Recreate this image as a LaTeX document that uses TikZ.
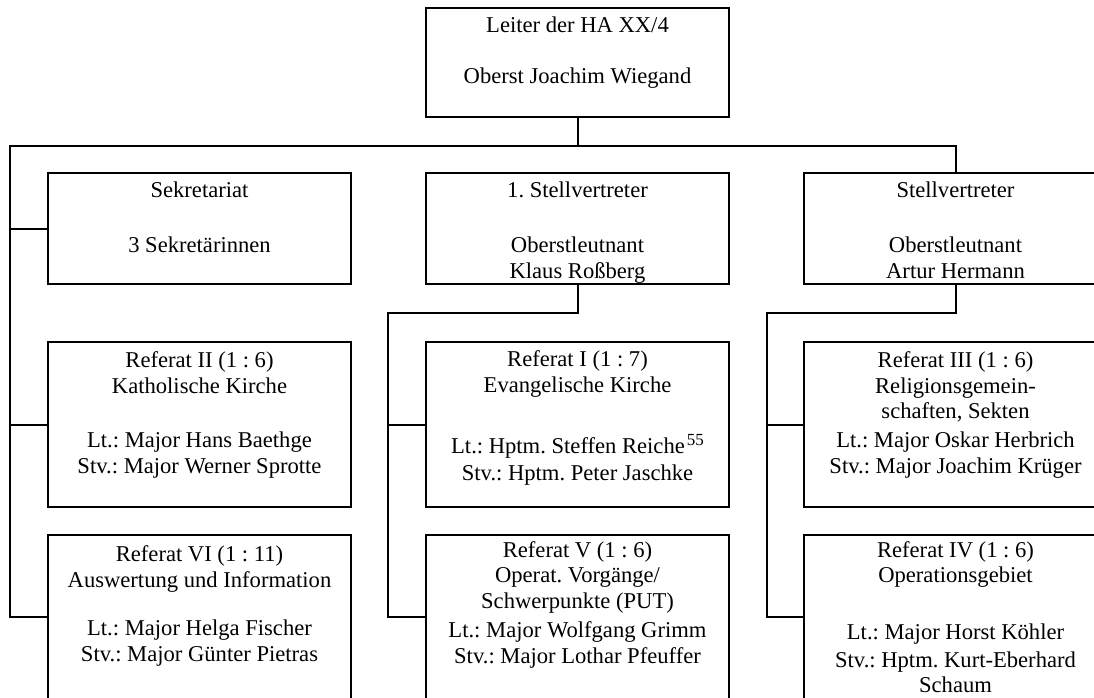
\documentclass[tikz,border=0pt]{standalone}
\usepackage{fontspec}
\setmainfont{Liberation Serif}
\frenchspacing
\newcommand\toprl{\rule{0pt}{17pt}}
\newcommand\supnum[1]{\hspace{2pt}\raisebox{8pt}{\fontsize{17}{17}\selectfont #1}}
\begin{document}
\begin{tikzpicture}[x=1pt,y=-1pt,
  box/.style={draw, line width=2pt, rectangle, inner sep=0pt, outer sep=0pt, minimum width=303pt, anchor=north west},
  txt/.style={align=center, inner sep=0pt, outer sep=0pt, anchor=north, font=\fontsize{22.6}{26}\selectfont\frenchspacing},
  conn/.style={line width=2pt, line join=miter}]
\useasboundingbox (0,0) rectangle (1094,697);
\clip (0,0) rectangle (1094,697);
\fill[white] (0,0) rectangle (1094,697);

% boxes
\node[box, minimum height=109pt] (top) at (426,8) {};
\node[box, minimum height=111pt] (sek) at (48,173) {};
\node[box, minimum height=111pt] (stv1) at (426,173) {};
\node[box, minimum height=111pt] (stv2) at (804,173) {};
\node[box, minimum height=165pt] (ref2) at (48,342) {};
\node[box, minimum height=165pt] (ref1) at (426,342) {};
\node[box, minimum height=165pt] (ref3) at (804,342) {};
\node[box, minimum height=164pt] (ref6) at (48,535) {};
\node[box, minimum height=164pt] (ref5) at (426,535) {};
\node[box, minimum height=164pt] (ref4) at (804,535) {};

% texts
\node[txt] (ttop) at ([yshift=-7pt]top.north) {\toprl Leiter der HA XX/4\\[25pt]Oberst Joachim Wiegand};
\node[txt] (tsek) at ([yshift=-7pt]sek.north) {\toprl Sekretariat\\[29.5pt]3 Sekretärinnen};
\node[txt] (tstv1) at ([yshift=-7pt]stv1.north) {\toprl 1. Stellvertreter\\[29.5pt]Oberstleutnant\\Klaus Roßberg};
\node[txt] (tstv2) at ([yshift=-7pt]stv2.north) {\toprl Stellvertreter\\[29.5pt]Oberstleutnant\\Artur Hermann};
\node[txt] (tref2) at ([yshift=-8pt]ref2.north) {\toprl Referat II (1 : 6)\\Katholische Kirche\\[28pt]Lt.: Major Hans Baethge\\Stv.: Major Werner Sprotte};
\node[txt] (tref1) at ([yshift=-7pt]ref1.north) {\toprl Referat I (1 : 7)\\Evangelische Kirche\\[35pt]Lt.: Hptm. Steffen Reiche\supnum{55}\\[1pt]Stv.: Hptm. Peter Jaschke};
\node[txt] (tref3) at ([yshift=-8pt]ref3.north) {\toprl Referat III (1 : 6)\\Religionsgemein-\\[-1pt]schaften, Sekten\\[3pt]Lt.: Major Oskar Herbrich\\Stv.: Major Joachim Krüger};
\node[txt] (tref6) at ([yshift=-9pt]ref6.north) {\toprl Referat VI (1 : 11)\\Auswertung und Information\\[22pt]Lt.: Major Helga Fischer\\Stv.: Major Günter Pietras};
\node[txt] (tref5) at ([yshift=-5.5pt]ref5.north) {\toprl Referat V (1 : 6)\\[-1.5pt]Operat. Vorgänge/\\Schwerpunkte (PUT)\\[3pt]Lt.: Major Wolfgang Grimm\\Stv.: Major Lothar Pfeuffer};
\node[txt] (tref4) at ([yshift=-5.5pt]ref4.north) {\toprl Referat IV (1 : 6)\\[-1.5pt]Operationsgebiet\\[31pt]Lt.: Major Horst Köhler\\[2pt]Stv.: Hptm. Kurt-Eberhard\\[-1pt]Schaum};

% connectors
\coordinate (busL) at (10,146);
\coordinate (mj) at (388,313);
\coordinate (rj) at (767,313);
\draw[conn] (top.south) -- (top.south |- busL);
\draw[conn] (stv2.north) -- (stv2.north |- busL) -- (busL) |- (ref6.west);
\draw[conn] (busL) |- (sek.west);
\draw[conn] (busL) |- (ref2.west);
\draw[conn] (stv1.south) |- (mj) |- (ref5.west);
\draw[conn] (mj) |- (ref1.west);
\draw[conn] (stv2.south) |- (rj) |- (ref4.west);
\draw[conn] (rj) |- (ref3.west);
\end{tikzpicture}
\end{document}
